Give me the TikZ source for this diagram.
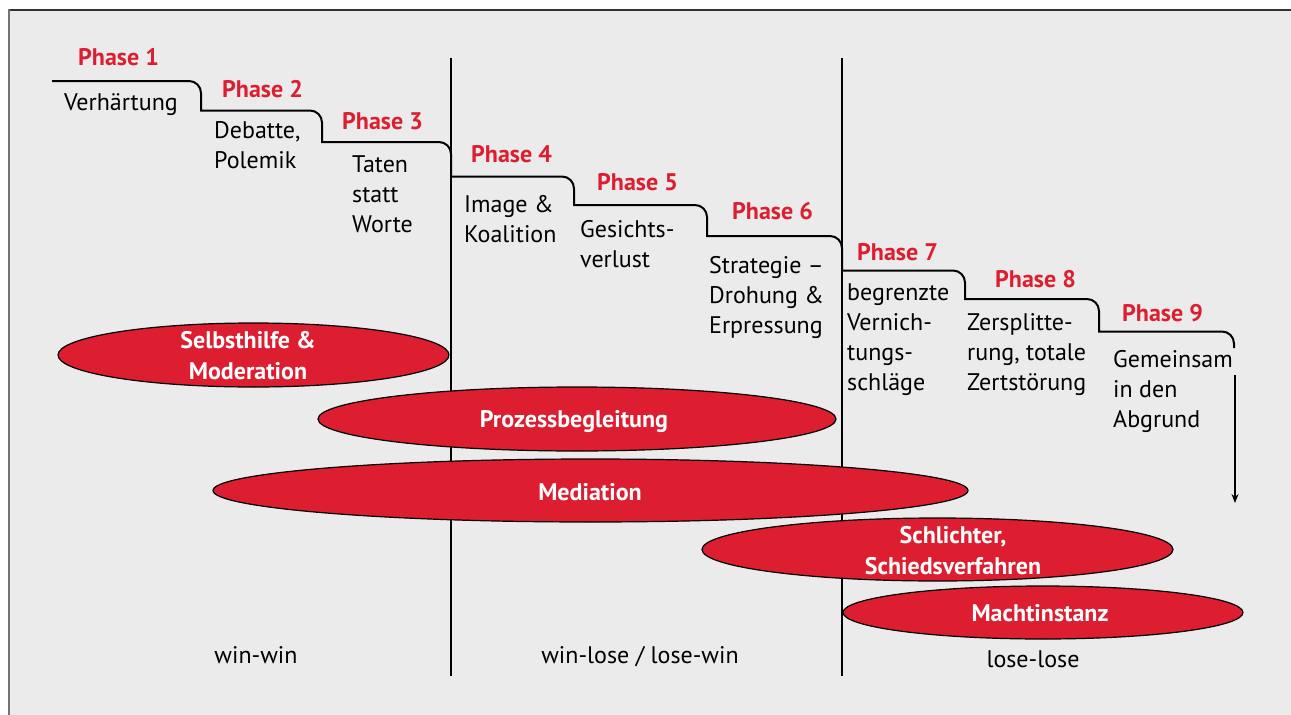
\documentclass[tikz,border=0pt]{standalone}
\usepackage{fontspec}
\setmainfont{PT Sans}
\usetikzlibrary{arrows.meta,shapes.geometric}
\definecolor{bgray}{HTML}{EBEBEB}
\definecolor{kred}{HTML}{DC1E30}
\begin{document}
\begin{tikzpicture}[x=1pt,y=-1pt,
  phase/.style={font=\fontsize{24}{30}\selectfont\bfseries, text=kred, anchor=base west, inner sep=0},
  desc/.style={font=\fontsize{24}{30}\selectfont, anchor=base west, align=left, inner sep=0},
  stair/.style={line width=2pt},
  divider/.style={line width=2pt},
  blob/.style={ellipse, draw=black, line width=1.2pt, fill=kred, inner sep=0},
  btext/.style={font=\fontsize{24}{31}\selectfont\bfseries, text=white, align=center, inner sep=0},
  outcome/.style={font=\fontsize{24}{30}\selectfont, anchor=base, inner sep=0}
]
\useasboundingbox (0,0) rectangle (1291,715);
\fill[white] (0,0) rectangle (1291,715);
\fill[bgray] (9,10) rectangle (1291,715);
\draw[line width=2pt, black!80] (8,9.5) -- (1291,9.5);
\draw[line width=2pt, black!55] (8.5,9) -- (8.5,715);

% dividers
\coordinate (v1t) at (451,58); \coordinate (v1b) at (451,676);
\coordinate (v2t) at (842,58); \coordinate (v2b) at (842,676);
\draw[divider] (v1t) -- (v1b);
\draw[divider] (v2t) -- (v2b);

% ellipses
\node[blob, minimum width=391pt, minimum height=64pt] (e1) at (253.5,355) {};
\node[blob, minimum width=518pt, minimum height=64pt] (e2) at (577,419) {};
\node[blob, minimum width=755pt, minimum height=63pt] (e3) at (590.5,490.5) {};
\node[blob, minimum width=471pt, minimum height=63pt] (e4) at (937.5,549.5) {};
\node[blob, minimum width=400pt, minimum height=53pt] (e5) at (1043,612.5) {};
\node[btext] (t1) at (248,356) {Selbsthilfe \&\\Moderation};
\node[btext] (t2) at (574,422) {Prozessbegleitung};
\node[btext] (t3) at (590,492) {Mediation};
\node[btext] (t4) at (953,551) {Schlichter,\\Schiedsverfahren};
\node[btext] (t5) at (1040,613) {Machtinstanz};

% staircase (quarter-circle corners, r = 12)
\draw[stair] (52,81) -- (189,81) .. controls (195.6,81) and (201,86.4) .. (201,93) -- (201,110.5)
  -- (310,110.5) .. controls (316.6,110.5) and (322,115.9) .. (322,122.5) -- (322,142)
  -- (439,142) .. controls (445.6,142) and (451,147.4) .. (451,154) -- (451,176.5)
  -- (562,176.5) .. controls (568.6,176.5) and (574,181.9) .. (574,188.5) -- (574,205)
  -- (695,205) .. controls (701.6,205) and (707,210.4) .. (707,217) -- (707,236)
  -- (830,236) .. controls (836.6,236) and (842,241.4) .. (842,248) -- (842,270.5)
  -- (953,270.5) .. controls (959.6,270.5) and (965,275.9) .. (965,282.5) -- (965,299)
  -- (1087,299) .. controls (1093.6,299) and (1099,304.4) .. (1099,311) -- (1099,331.5)
  -- (1222,331.5) .. controls (1228.6,331.5) and (1234,336.9) .. (1234,343.5) -- (1234,348);

\coordinate (a0) at (1235,375); \coordinate (a1) at (1235,503);
\draw[line width=1.5pt, -{Stealth[length=9pt,width=7pt]}] (a0) -- (a1);

% phases (multi-line nodes: base = last line's baseline)
\node[phase] (p1) at (78,65) {Phase 1};
\node[desc] (d1) at (64,110) {Verhärtung};
\node[phase] (p2) at (222,97) {Phase 2};
\node[desc] (d2) at (214,168) {Debatte,\\Polemik};
\node[phase] (p3) at (342,129) {Phase 3};
\node[desc] (d3) at (352,232) {Taten\\statt\\Worte};
\node[phase] (p4) at (471,162) {Phase 4};
\node[desc] (d4) at (464,242) {Image \&\\Koalition};
\node[phase] (p5) at (597,190) {Phase 5};
\node[desc] (d5) at (580,267) {Gesichts-\\verlust};
\node[phase] (p6) at (732,219) {Phase 6};
\node[desc] (d6) at (709,333) {Strategie –\\Drohung \&\\Erpressung};
\node[phase] (p7) at (857,260) {Phase 7};
\node[desc] (d7) at (847,390) {begrenzte\\Vernich-\\tungs-\\schläge};
\node[phase] (p8) at (995,287) {Phase 8};
\node[desc] (d8) at (967,390) {Zersplitte-\\rung, totale\\Zertstörung};
\node[phase] (p9) at (1122,321) {Phase 9};
\node[desc] (d9) at (1113,427) {Gemeinsam\\in den\\Abgrund};

% outcomes
\node[outcome] (o1) at (256,663) {win-win};
\node[outcome] (o2) at (640,663) {win-lose / lose-win};
\node[outcome] (o3) at (1033,667) {lose-lose};
\end{tikzpicture}
\end{document}
